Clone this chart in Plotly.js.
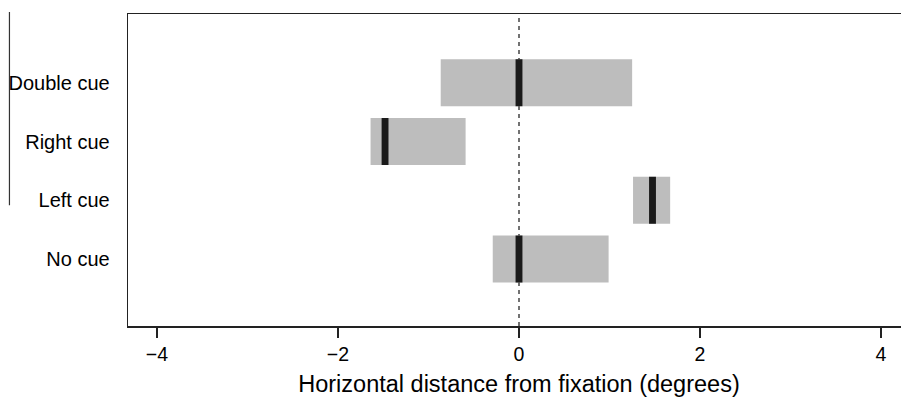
<!DOCTYPE html>
<html>
<head>
<meta charset="utf-8">
<script src="https://cdn.plot.ly/plotly-3.0.1.min.js"></script>
<style>
html,body{margin:0;padding:0;overflow:hidden;background:#fff;}
#chart{width:920px;height:397px;}
</style>
</head>
<body>
<div id="chart"></div>
<script>
// Data
const conditions = ["No cue", "Left cue", "Right cue", "Double cue"];
const rangeLow   = [-0.29, 1.26, -1.64, -0.865];
const rangeHigh  = [0.99, 1.67, -0.59, 1.25];
const centers    = [0.0, 1.475, -1.48, 0.0];
const xTicks     = [-4, -2, 0, 2, 4];

const markHalf = 0.038; // half-width of the black centre mark (style)

const rangeTrace = {
  type: "bar", orientation: "h",
  y: conditions,
  base: rangeLow,
  x: rangeHigh.map((h, i) => h - rangeLow[i]),
  width: 0.8,
  marker: {color: "#bdbdbd", line: {width: 0}},
  hoverinfo: "skip", showlegend: false
};
const centerTrace = {
  type: "bar", orientation: "h",
  y: conditions,
  base: centers.map(c => c - markHalf),
  x: centers.map(() => 2 * markHalf),
  width: 0.8,
  marker: {color: "#1a1a1a", line: {width: 0}},
  hoverinfo: "skip", showlegend: false
};

const layout = {
  width: 920, height: 397,
  margin: {l: 128, r: 10, t: 14, b: 71},
  barmode: "overlay",
  paper_bgcolor: "#fff", plot_bgcolor: "#fff",
  font: {family: "Liberation Sans, Arial, sans-serif", color: "#000", size: 19},
  xaxis: {
    range: [-4.32, 4.32],
    tickvals: xTicks,
    ticktext: xTicks.map(v => v < 0 ? "\u2212" + Math.abs(v) : String(v)),
    ticks: "outside", ticklen: 10, tickwidth: 1.3, tickcolor: "#222",
    showgrid: false, zeroline: false,
    showline: true, linecolor: "#222", linewidth: 1.5, mirror: true,
    tickfont: {size: 19.5},
    title: {text: "Horizontal distance from fixation (degrees)", font: {size: 23.5}, standoff: 13}
  },
  yaxis: {
    type: "category",
    categoryarray: conditions, categoryorder: "array",
    range: [-1.14, 4.17],
    ticks: "", showgrid: false, zeroline: false,
    showline: true, linecolor: "#222", linewidth: 1.3, mirror: true,
    tickfont: {size: 20},
    ticklabelstandoff: 13
  },
  shapes: [
    {type: "line", xref: "x", yref: "paper", x0: 0, x1: 0, y0: 0, y1: 1,
     line: {color: "#444", width: 1.5, dash: "4px,4px"}, layer: "below"},
    {type: "line", xref: "paper", yref: "paper", x0: -0.1516, x1: -0.1516, y0: 1.0064, y1: 0.387,
     line: {color: "#333", width: 1.2}}
  ]
};

Plotly.newPlot("chart", [rangeTrace, centerTrace], layout, {displayModeBar: false, staticPlot: true});
</script>
</body>
</html>
